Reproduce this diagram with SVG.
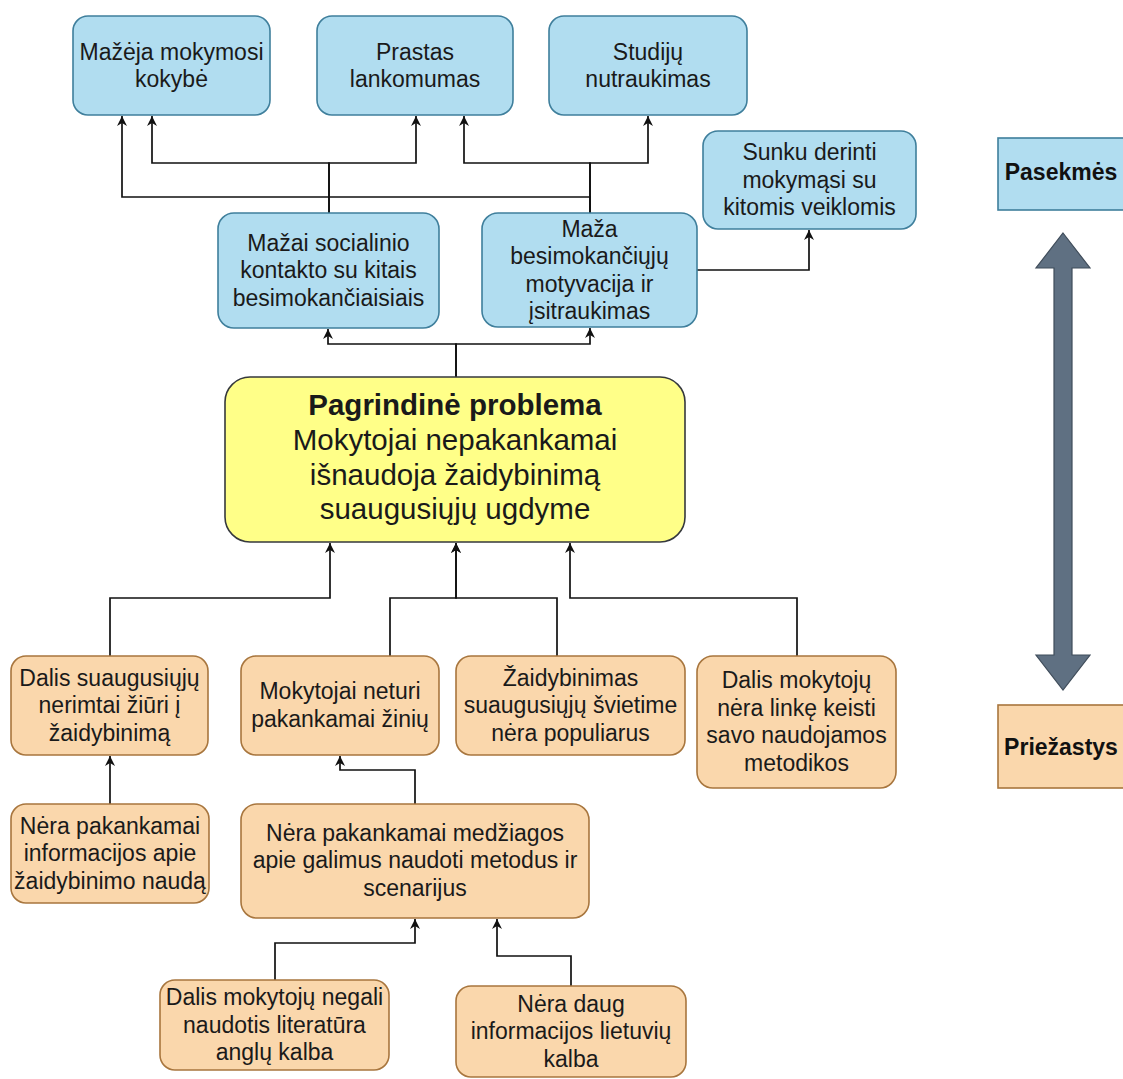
<svg xmlns="http://www.w3.org/2000/svg" width="1123" height="1079" viewBox="0 0 1123 1079">
  <style>
    .blue { fill: #b1ddf0; stroke: #3f7f9c; stroke-width: 1.6; }
    .orange { fill: #fad7ac; stroke: #a8763e; stroke-width: 1.6; }
    .core { fill: #ffff88; stroke: #36393d; stroke-width: 1.6; }
    .t { font-family: "Liberation Sans", Arial, sans-serif; font-size: 23px; fill: #1a1a1a; text-anchor: middle; }
    .tc { font-family: "Liberation Sans", Arial, sans-serif; font-size: 29.5px; fill: #1a1a1a; text-anchor: middle; }
    .bold { font-weight: bold; }
    .side { font-family: "Liberation Sans", Arial, sans-serif; font-size: 23px; font-weight: bold; fill: #111; text-anchor: middle; }
    .edge { fill: none; stroke: #111; stroke-width: 1.7; marker-end: url(#arrow); }
  </style>
  <defs>
    <marker id="arrow" viewBox="0 0 10 10" refX="10" refY="5" markerWidth="12" markerHeight="10" markerUnits="userSpaceOnUse" orient="auto">
      <path d="M0,0 L10,5 L0,10 L3,5 Z" fill="#111"/>
    </marker>
  </defs>
  <rect width="1123" height="1079" fill="#ffffff"/>

  <!-- connectors -->
  <g id="connectors">
    <path class="edge" d="M329,213 V163 H152 V116"/>
    <path class="edge" d="M329,213 V163 H416 V116"/>
    <path class="edge" d="M590,213 V163 H464 V116"/>
    <path class="edge" d="M590,213 V163 H648 V116"/>
    <path class="edge" d="M590,213 V197 H122 V116"/>
    <path class="edge" d="M697,270 H809 V230"/>
    <path class="edge" d="M456,377 V344 H328 V329"/>
    <path class="edge" d="M456,377 V344 H590 V328"/>
    <path class="edge" d="M110,656 V598 H330 V543"/>
    <path class="edge" d="M390,656 V598 H456 V543"/>
    <path class="edge" d="M557,656 V598 H456 V543"/>
    <path class="edge" d="M797,656 V598 H570 V543"/>
    <path class="edge" d="M110,804 V756"/>
    <path class="edge" d="M415,804 V770 H340 V756"/>
    <path class="edge" d="M275,980 V943 H415 V919"/>
    <path class="edge" d="M571,986 V956 H497 V919"/>
  </g>

  <!-- consequences -->
  <g id="n-kokybe">
    <rect class="blue" x="73" y="16" width="197" height="99" rx="15"/>
    <text class="t" x="171.5" y="60">Mažėja mokymosi</text>
    <text class="t" x="171.5" y="87">kokybė</text>
  </g>
  <g id="n-lankomumas">
    <rect class="blue" x="317" y="16" width="196" height="99" rx="15"/>
    <text class="t" x="415" y="60">Prastas</text>
    <text class="t" x="415" y="87">lankomumas</text>
  </g>
  <g id="n-nutraukimas">
    <rect class="blue" x="549" y="16" width="198" height="99" rx="15"/>
    <text class="t" x="648" y="60">Studijų</text>
    <text class="t" x="648" y="87">nutraukimas</text>
  </g>
  <g id="n-derinti">
    <rect class="blue" x="703" y="131" width="213" height="98" rx="15"/>
    <text class="t" x="809.5" y="160">Sunku derinti</text>
    <text class="t" x="809.5" y="188">mokymąsi su</text>
    <text class="t" x="809.5" y="215">kitomis veiklomis</text>
  </g>
  <g id="n-kontaktas">
    <rect class="blue" x="218" y="213" width="221" height="115" rx="16"/>
    <text class="t" x="328.5" y="251">Mažai socialinio</text>
    <text class="t" x="328.5" y="278">kontakto su kitais</text>
    <text class="t" x="328.5" y="306">besimokančiaisiais</text>
  </g>
  <g id="n-motyvacija">
    <rect class="blue" x="482" y="213" width="215" height="114" rx="16"/>
    <text class="t" x="589.5" y="237">Maža</text>
    <text class="t" x="589.5" y="264">besimokančiųjų</text>
    <text class="t" x="589.5" y="292">motyvacija ir</text>
    <text class="t" x="589.5" y="319">įsitraukimas</text>
  </g>

  <!-- core problem -->
  <g id="n-problema">
    <rect class="core" x="225" y="377" width="460" height="165" rx="25"/>
    <text class="tc bold" x="455" y="415">Pagrindinė problema</text>
    <text class="tc" x="455" y="450">Mokytojai nepakankamai</text>
    <text class="tc" x="455" y="485">išnaudoja žaidybinimą</text>
    <text class="tc" x="455" y="519">suaugusiųjų ugdyme</text>
  </g>

  <!-- causes -->
  <g id="n-nerimtai">
    <rect class="orange" x="11" y="656" width="197" height="99" rx="15"/>
    <text class="t" x="109.5" y="686">Dalis suaugusiųjų</text>
    <text class="t" x="109.5" y="713">nerimtai žiūri į</text>
    <text class="t" x="109.5" y="741">žaidybinimą</text>
  </g>
  <g id="n-ziniu">
    <rect class="orange" x="241" y="656" width="198" height="99" rx="15"/>
    <text class="t" x="340" y="699">Mokytojai neturi</text>
    <text class="t" x="340" y="727">pakankamai žinių</text>
  </g>
  <g id="n-populiarus">
    <rect class="orange" x="456" y="656" width="229" height="99" rx="15"/>
    <text class="t" x="570.5" y="686">Žaidybinimas</text>
    <text class="t" x="570.5" y="713">suaugusiųjų švietime</text>
    <text class="t" x="570.5" y="741">nėra populiarus</text>
  </g>
  <g id="n-metodikos">
    <rect class="orange" x="697" y="656" width="199" height="132" rx="16"/>
    <text class="t" x="796.5" y="688">Dalis mokytojų</text>
    <text class="t" x="796.5" y="716">nėra linkę keisti</text>
    <text class="t" x="796.5" y="743">savo naudojamos</text>
    <text class="t" x="796.5" y="771">metodikos</text>
  </g>
  <g id="n-nauda">
    <rect class="orange" x="11" y="804" width="198" height="99" rx="15"/>
    <text class="t" x="110" y="834">Nėra pakankamai</text>
    <text class="t" x="110" y="861">informacijos apie</text>
    <text class="t" x="110" y="889">žaidybinimo naudą</text>
  </g>
  <g id="n-medziaga">
    <rect class="orange" x="241" y="804" width="348" height="114" rx="16"/>
    <text class="t" x="415" y="841">Nėra pakankamai medžiagos</text>
    <text class="t" x="415" y="868">apie galimus naudoti metodus ir</text>
    <text class="t" x="415" y="896">scenarijus</text>
  </g>
  <g id="n-anglu">
    <rect class="orange" x="160" y="980" width="229" height="90" rx="15"/>
    <text class="t" x="274.5" y="1005">Dalis mokytojų negali</text>
    <text class="t" x="274.5" y="1033">naudotis literatūra</text>
    <text class="t" x="274.5" y="1060">anglų kalba</text>
  </g>
  <g id="n-lietuviu">
    <rect class="orange" x="456" y="986" width="230" height="91" rx="15"/>
    <text class="t" x="571" y="1012">Nėra daug</text>
    <text class="t" x="571" y="1039">informacijos lietuvių</text>
    <text class="t" x="571" y="1067">kalba</text>
  </g>

  <!-- legend -->
  <g id="legend-pasekmes">
    <rect class="blue" x="998" y="138" width="140" height="72"/>
    <text class="side" x="1061" y="180">Pasekmės</text>
  </g>
  <g id="legend-arrow">
    <polygon points="1063,233 1090,268 1072,268 1072,655 1090,655 1063,690 1036,655 1054,655 1054,268 1036,268" fill="#5f7082" stroke="#3f4c5a" stroke-width="1.2"/>
  </g>
  <g id="legend-priezastys">
    <rect class="orange" x="998" y="705" width="140" height="83"/>
    <text class="side" x="1061" y="755">Priežastys</text>
  </g>
</svg>
